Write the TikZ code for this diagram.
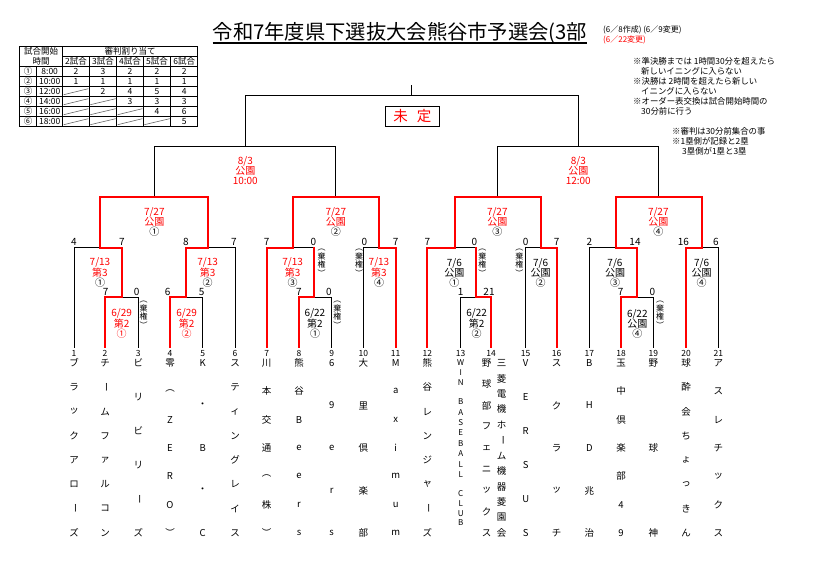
\documentclass[tikz,border=0pt]{standalone}
\usepackage{fontspec}
\setmainfont{Noto Sans CJK JP}
\newcommand\redtx[1]{\textcolor{red}{#1}}
\newcommand\vb{\rotatebox[origin=c]{-90}{ー}}
\newcommand\tmname[4]{%
  \foreach \ch [count=\k from 0] in {#4} {
    \node[tn] (#2-\k) at (#1,{363+\k*170/(#3-1)}) {\ch};
  }%
}
\newcommand\trow[9]{%
  \node[tt] (r#1a) at (28,#2) {#3};
  \node[tt] (r#1b) at (49.7,#2) {#4};
  \node[tt] (r#1c) at (76,#2) {#5};
  \node[tt] (r#1d) at (103,#2) {#6};
  \node[tt] (r#1e) at (130,#2) {#7};
  \node[tt] (r#1f) at (157,#2) {#8};
  \node[tt] (r#1g) at (184.2,#2) {#9};
}
\tikzset{
  base/.style={line width=1pt, line cap=rect},
  win/.style={draw=red, line width=2.2pt, line cap=rect},
  lab/.style={font=\fontsize{10}{10}\selectfont, align=center, inner sep=0pt},
  sc/.style={font=\fontsize{10}{10}\selectfont, inner sep=0pt, anchor=base},
  tn/.style={font=\fontsize{9.5}{10}\selectfont, inner sep=0pt},
  tnsmall/.style={font=\fontsize{8}{8}\selectfont, inner sep=0pt},
  num/.style={font=\fontsize{8.5}{9}\selectfont, inner sep=0pt},
  kiken/.style={font=\fontsize{8}{8.5}\selectfont, align=center, inner sep=0pt},
  tt/.style={font=\fontsize{8.5}{9}\selectfont, inner sep=0pt},
  tbl/.style={line width=0.8pt},
  diag/.style={line width=0.6pt, draw=black!60},
  note/.style={font=\fontsize{8.4}{10}\selectfont, inner sep=0pt, anchor=west},
}
\begin{document}
\begin{tikzpicture}[x=1pt,y=-1pt]
\useasboundingbox (0,0) rectangle (817,567);

% ---------- title ----------
\node[font=\fontsize{20.3}{20}\selectfont, anchor=base, inner sep=0pt] (title) at (400,40) {令和7年度県下選抜大会熊谷市予選会(3部};
\draw[line width=1.3pt] ([yshift=-3pt]title.base west) -- ([yshift=-3pt]title.base east);
\node[font=\fontsize{8}{9}\selectfont, anchor=west, inner sep=0pt] (hd1) at (603,30) {(6／8作成) (6／9変更)};
\node[font=\fontsize{8}{9}\selectfont, anchor=west, inner sep=0pt, text=red] (hd2) at (603,40) {(6／22変更)};

% ---------- notes ----------
\node[note] (nt1) at (633,61.7) {※準決勝までは 1時間30分を超えたら};
\node[note] (nt2) at (641,71.7) {新しいイニングに入らない};
\node[note] (nt3) at (633,81.7) {※決勝は 2時間を超えたら新しい};
\node[note] (nt4) at (641,91.7) {イニングに入らない};
\node[note] (nt5) at (633,101.7) {※オーダー表交換は試合開始時間の};
\node[note] (nt6) at (641,111.7) {30分前に行う};
\node[note] (nt7) at (672,131.7) {※審判は30分前集合の事};
\node[note] (nt8) at (672,141.7) {※1塁側が記録と2塁};
\node[note] (nt9) at (682,151.7) {3塁側が1塁と3塁};

% ---------- table ----------
\draw[tbl] (19.3,46.7) rectangle (197.7,126.7);
\draw[tbl] (62.7,56.7) -- (197.7,56.7);
\foreach \yy in {66.7,76.7,86.7,96.7,106.7,116.7} \draw[tbl] (19.3,\yy) -- (197.7,\yy);
\draw[tbl] (36.7,66.7) -- (36.7,126.7);
\draw[tbl] (62.7,46.7) -- (62.7,126.7);
\foreach \xx in {89.3,116.7,143.3,170.7} \draw[tbl] (\xx,56.7) -- (\xx,126.7);
\foreach \xl/\xr/\yb in {62.7/89.3/96.7, 62.7/89.3/106.7, 89.3/116.7/106.7,
  62.7/89.3/116.7, 89.3/116.7/116.7, 116.7/143.3/116.7,
  62.7/89.3/126.7, 89.3/116.7/126.7, 116.7/143.3/126.7, 143.3/170.7/126.7}
  \draw[diag] (\xl+1,\yb-2) -- (\xr-1,\yb-8);
\node[tt] (th1) at (41,51.7) {試合開始};
\node[tt] (th2) at (41,61.7) {時間};
\node[tt] (th3) at (130.2,51.7) {審判割り当て};
\node[tt] (th4) at (76,61.7) {2試合};
\node[tt] (th5) at (103,61.7) {3試合};
\node[tt] (th6) at (130,61.7) {4試合};
\node[tt] (th7) at (157,61.7) {5試合};
\node[tt] (th8) at (184.2,61.7) {6試合};
\trow{1}{71.7}{①}{8:00}{2}{3}{2}{2}{2}
\trow{2}{81.7}{②}{10:00}{1}{1}{1}{1}{1}
\trow{3}{91.7}{③}{12:00}{}{2}{4}{5}{4}
\trow{4}{101.7}{④}{14:00}{}{}{3}{3}{3}
\trow{5}{111.7}{⑤}{16:00}{}{}{}{4}{6}
\trow{6}{121.7}{⑥}{18:00}{}{}{}{}{5}

% ---------- coordinates ----------
\foreach \i/\x in {1/74,2/105,3/138.3,4/170,5/202.7,6/235,7/266.7,8/299,9/331.7,10/363.3,11/395.7,12/427.3,13/460.7,14/491,15/525.7,16/556.7,17/589.3,18/621,19/653.3,20/686,21/718.3} {
  \coordinate (t\i) at (\x,347);
  \node[num] (n\i) at (\x,353.5) {\i};
}
\coordinate (a1) at (121.7,297.3);
\coordinate (a2) at (186.3,297.3);
\coordinate (a3) at (314.3,297.3);
\coordinate (a4) at (475.8,297.3);
\coordinate (a5) at (636.7,297.3);
\coordinate (b1) at (100,247.7);
\coordinate (b2) at (207.7,247.7);
\coordinate (b3) at (292.7,247.7);
\coordinate (b4) at (379,247.7);
\coordinate (b5) at (455,247.7);
\coordinate (b6) at (540.7,247.7);
\coordinate (b7) at (615.7,247.7);
\coordinate (b8) at (702,247.7);
\coordinate (a3u) at (a3 |- b3);
\coordinate (a4u) at (a4 |- b5);
\coordinate (c1) at (154.3,197.3);
\coordinate (c2) at (335.8,197.3);
\coordinate (c3) at (497.8,197.3);
\coordinate (c4) at (658.8,197.3);
\coordinate (d1) at (245.3,146.7);
\coordinate (d2) at (578.3,146.7);
\coordinate (e) at (411.8,96);
\coordinate (etop) at (411.8,86);

% ---------- black lines ----------
\draw[base] (t1) |- (b1);
\draw[base] (t3) |- (a1);
\draw[base] (t5) |- (a2);
\draw[base] (t6) |- (b2);
\draw[base] (a3u) -- (b3);
\draw[base] (t9) |- (a3);
\draw[base] (t10) |- (b4);
\draw[base] (a4u) -- (b5);
\draw[base] (t13) |- (a4);
\draw[base] (t15) |- (b6);
\draw[base] (t17) |- (b7);
\draw[base] (t19) |- (a5);
\draw[base] (t21) |- (b8);
\draw[base] (c1) |- (d1);
\draw[base] (c2) |- (d1);
\draw[base] (c3) |- (d2);
\draw[base] (c4) |- (d2);
\draw[base] (d1) |- (e);
\draw[base] (d2) |- (e);
\draw[base] (e) -- (etop);

% ---------- red (winner) lines ----------
\draw[win] (t2) |- (a1);
\draw[win] (a1) |- (b1);
\draw[win] (t4) |- (a2);
\draw[win] (a2) |- (b2);
\draw[win] (b1) |- (c1);
\draw[win] (b2) |- (c1);
\draw[win] (t7) |- (b3);
\draw[win] (t8) |- (a3);
\draw[win] (a3) -- (a3u);
\draw[win] (t11) |- (b4);
\draw[win] (b3) |- (c2);
\draw[win] (b4) |- (c2);
\draw[win] (t12) |- (b5);
\draw[win] (t14) |- (a4);
\draw[win] (a4) -- (a4u);
\draw[win] (t16) |- (b6);
\draw[win] (b5) |- (c3);
\draw[win] (b6) |- (c3);
\draw[win] (t18) |- (a5);
\draw[win] (a5) |- (b7);
\draw[win] (t20) |- (b8);
\draw[win] (b7) |- (c4);
\draw[win] (b8) |- (c4);

% ---------- final box ----------
\node[draw, line width=1pt, minimum width=54pt, minimum height=20.3pt, inner sep=0pt,
      font=\fontsize{14.5}{14}\selectfont, text=red] (mitei) at (412.3,116.2) {未\hspace{9pt}定};

% ---------- match labels ----------
\node[lab, text=red] (sf1) at (245.3,171) {8/3\\公園\\10:00};
\node[lab, text=red] (sf2) at (578.3,171) {8/3\\公園\\12:00};
\node[lab] (qf1) at (154.3,221.7) {\redtx{7/27}\\\redtx{公園}\\①};
\node[lab] (qf2) at (335.8,221.7) {\redtx{7/27}\\\redtx{公園}\\②};
\node[lab] (qf3) at (497.3,221.7) {\redtx{7/27}\\\redtx{公園}\\③};
\node[lab] (qf4) at (658.3,221.7) {\redtx{7/27}\\\redtx{公園}\\④};
\node[lab] (r2a) at (100,272.7) {\redtx{7/13}\\\redtx{第3}\\①};
\node[lab] (r2b) at (207.7,272.7) {\redtx{7/13}\\\redtx{第3}\\②};
\node[lab] (r2c) at (292.7,272.7) {\redtx{7/13}\\\redtx{第3}\\③};
\node[lab] (r2d) at (379,272.7) {\redtx{7/13}\\\redtx{第3}\\④};
\node[lab] (r2e) at (454.3,272.7) {7/6\\公園\\①};
\node[lab] (r2f) at (540.7,272.7) {7/6\\公園\\②};
\node[lab] (r2g) at (615,272.7) {7/6\\公園\\③};
\node[lab] (r2h) at (701.7,272.7) {7/6\\公園\\④};
\node[lab, text=red] (r1a) at (121.7,323.5) {6/29\\第2\\①};
\node[lab, text=red] (r1b) at (186.7,323.5) {6/29\\第2\\②};
\node[lab] (r1c) at (315,323.5) {6/22\\第2\\①};
\node[lab] (r1e) at (476.7,323.5) {6/22\\第2\\②};
\node[lab] (r1g) at (637.3,323.5) {6/22\\公園\\④};

% ---------- scores ----------
\foreach \x/\s [count=\k] in {74/4,122/7,186/8,234/7,266.7/7,313.3/0,364.3/0,395.7/7,427.3/7,474.3/0,525.7/0,556.7/7,589.3/2,635/14,683.3/16,716/6}
  \node[sc] (sa\k) at (\x,245.9) {\s};
\foreach \x/\s [count=\k] in {105.7/7,136.7/0,167.7/6,201.7/5,299/7,329/0,460.7/1,489/21,620.7/7,652.3/0}
  \node[sc] (sb\k) at (\x,295.6) {\s};

% ---------- forfeit marks ----------
\foreach \x/\y [count=\k] in {143.5/315,321.7/263,337.3/315,359/263,482.3/263,519.3/263,660/315}
  \node[kiken] (kk\k) at (\x,\y) {︵\\棄\\権\\︶};

% ---------- team names ----------
\tmname{74}{nm1}{8}{ブ,ラ,ッ,ク,ア,ロ,\vb,ズ}
\tmname{105}{nm2}{8}{チ,\vb,ム,フ,ァ,ル,コ,ン}
\tmname{138.3}{nm3}{6}{ビ,リ,ビ,リ,\vb,ズ}
\tmname{170}{nm4}{7}{零,︵,Z,E,R,O,︶}
\tmname{202.7}{nm5}{5}{K,・,B,・,C}
\tmname{235}{nm6}{8}{ス,テ,ィ,ン,グ,レ,イ,ス}
\tmname{266.7}{nm7}{7}{川,本,交,通,︵,株,︶}
\tmname{299}{nm8}{7}{熊,谷,B,e,e,r,s}
\tmname{331.7}{nm9}{5}{6,9,e,r,s}
\tmname{363.3}{nm10}{5}{大,里,倶,楽,部}
\tmname{395.7}{nm11}{7}{M,a,x,i,m,u,m}
\tmname{427.3}{nm12}{8}{熊,谷,レ,ン,ジ,ャ,\vb,ズ}
\foreach \ch/\y [count=\k] in {W/363,I/373,N/383,B/401.7,A/412.1,S/422.5,E/432.9,B/443.3,A/453.7,L/464.1,L/474.5,C/494,L/503.7,U/513.3,B/523}
  \node[tnsmall] (nm13-\k) at (460.7,\y) {\ch};
\tmname{486.7}{nm14a}{9}{野,球,部,フ,ェ,ニ,ッ,ク,ス}
\tmname{501.7}{nm14b}{12}{三,菱,電,機,ホ,\vb,ム,機,器,菱,園,会}
\tmname{525.7}{nm15}{6}{V,E,R,S,U,S}
\tmname{556.7}{nm16}{5}{ス,ク,ラ,ッ,チ}
\tmname{589.3}{nm17}{5}{B,H,D,兆,治}
\tmname{621}{nm18}{7}{玉,中,倶,楽,部,4,9}
\tmname{653.3}{nm19}{3}{野,球,神}
\tmname{686}{nm20}{8}{球,酔,会,ち,ょ,っ,き,ん}
\tmname{718.3}{nm21}{7}{ア,ス,レ,チ,ッ,ク,ス}
\end{tikzpicture}
\end{document}
